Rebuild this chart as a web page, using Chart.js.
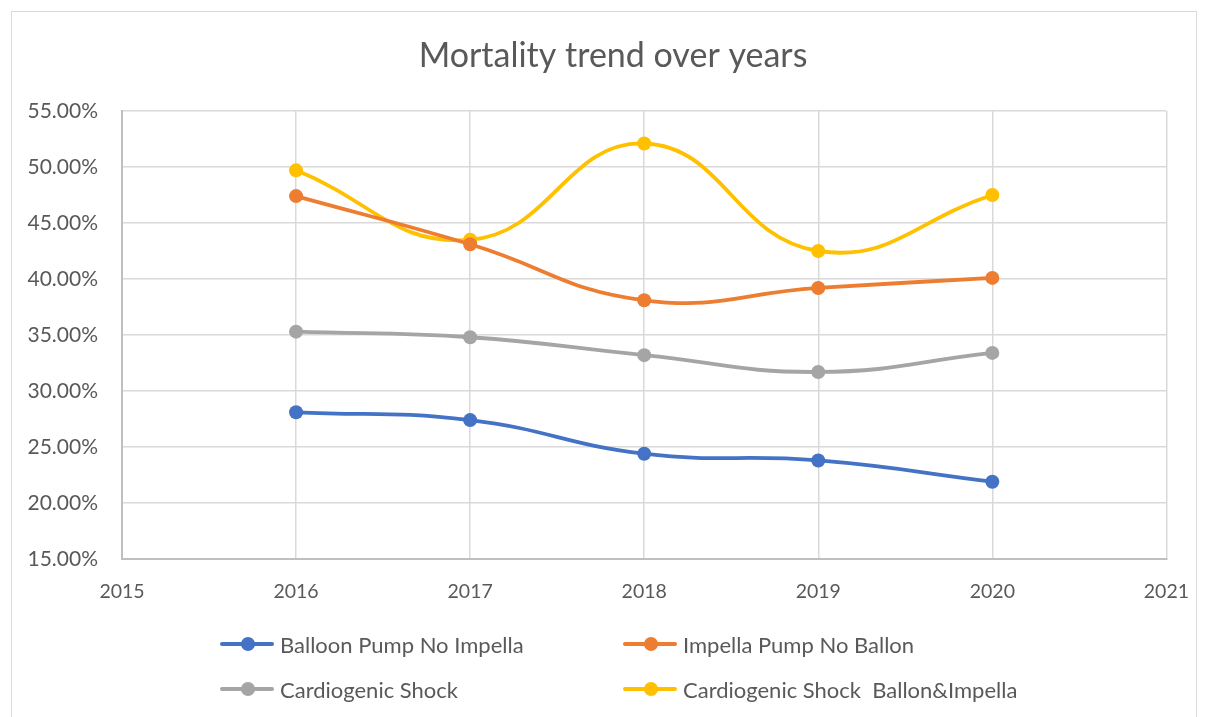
<!DOCTYPE html>
<html>
<head>
<meta charset="utf-8">
<script src="https://cdn.jsdelivr.net/npm/chart.js@4/dist/chart.umd.min.js"></script>
<style>
  html, body { margin: 0; padding: 0; background: #fff; }
  #wrap { position: relative; width: 1206px; height: 717px; overflow: hidden; }
  #frame { position: absolute; left: 11px; top: 11px; width: 1186px; height: 720px; border: 1.5px solid #d9d9d9; box-sizing: border-box; }
  canvas { position: absolute; left: 0; top: 0; }
  #legend { position: absolute; left: 0; top: 0; font-family: Lato, "Noto Sans", sans-serif; font-size: 22px; color: #595959; }
  .item { position: absolute; display: flex; align-items: center; height: 30px; white-space: pre; }
  .mark { position: relative; width: 54px; height: 30px; margin-right: 6px; }
  .mark .ln { position: absolute; left: 0; right: 0; top: 13px; height: 4px; border-radius: 2px; }
  .mark .dot { position: absolute; left: 21px; top: 8px; width: 14px; height: 14px; border-radius: 50%; }
</style>
</head>
<body>
<div id="wrap">
  <div id="frame"></div>
  <canvas id="chart" width="1210" height="717"></canvas>
  <div id="legend"></div>
</div>
<script>
// Данные графика
const years = [2016, 2017, 2018, 2019, 2020];
const balloonNoImpella = [28.1, 27.4, 24.4, 23.8, 21.9];
const impellaNoBallon = [47.4, 43.1, 38.1, 39.2, 40.1];
const cardiogenicShock = [35.3, 34.8, 33.2, 31.7, 33.4];
const shockBallonImpella = [49.7, 43.5, 52.1, 42.5, 47.5];

const seriesNames = [
  "Balloon Pump No Impella",
  "Impella Pump No Ballon",
  "Cardiogenic Shock",
  "Cardiogenic Shock  Ballon&Impella",
];
const seriesColors = ["#4472C4", "#ED7D31", "#A5A5A5", "#FFC000"];
const seriesValues = [balloonNoImpella, impellaNoBallon, cardiogenicShock, shockBallonImpella];
const chartTitle = "Mortality trend over years";

const FONT = "Lato, 'Noto Sans', sans-serif";
const TEXT = "#595959";

const datasets = seriesValues.map((vals, i) => ({
  label: seriesNames[i],
  data: years.map((yr, j) => ({ x: yr, y: vals[j] })),
  borderColor: seriesColors[i],
  backgroundColor: seriesColors[i],
  borderWidth: 3.8,
  pointRadius: 7,
  pointBorderWidth: 0,
  showLine: true,
  tension: 0.45,
}));

// Заголовок рисуем сами, чтобы сдвинуть его как в оригинале
const titlePlugin = {
  id: "excelTitle",
  afterDraw(chart) {
    const c = chart.ctx;
    c.save();
    c.fillStyle = TEXT;
    c.font = "34px " + FONT;
    c.textAlign = "center";
    c.textBaseline = "alphabetic";
    c.fillText(chartTitle, 613, 67);
    c.restore();
  },
};

const ctx = document.getElementById("chart").getContext("2d");
new Chart(ctx, {
  type: "scatter",
  data: { datasets: datasets },
  plugins: [titlePlugin],
  options: {
    responsive: false,
    animation: false,
    layout: { padding: { left: 0, right: 35, top: 111, bottom: 0 } },
    plugins: {
      legend: { display: false },
      tooltip: { enabled: false },
      title: { display: false },
    },
    scales: {
      x: {
        type: "linear",
        min: 2015,
        max: 2021,
        ticks: {
          stepSize: 1,
          color: TEXT,
          padding: 21,
          font: { family: FONT, size: 19.5 },
          callback: (v) => String(v),
        },
        grid: { color: "#d9d9d9", lineWidth: 1.5, drawTicks: false },
        border: { color: "#bfbfbf", width: 2 },
        afterFit: (s) => { s.height = 158; },
      },
      y: {
        min: 15,
        max: 55,
        ticks: {
          stepSize: 5,
          color: TEXT,
          padding: 24,
          font: { family: FONT, size: 21 },
          callback: (v) => v.toFixed(2) + "%",
        },
        grid: { color: "#d9d9d9", lineWidth: 1.5, drawTicks: false },
        border: { color: "#bfbfbf", width: 2 },
        afterFit: (s) => { s.width = 122; },
      },
    },
  },
});

// Легенда в две колонки
const legend = document.getElementById("legend");
const cols = [220, 623];
const rows = [644, 689];
seriesNames.forEach((name, i) => {
  const item = document.createElement("div");
  item.className = "item";
  item.style.left = cols[i % 2] + "px";
  item.style.top = (rows[Math.floor(i / 2)] - 15) + "px";
  item.innerHTML =
    '<span class="mark"><span class="ln" style="background:' + seriesColors[i] +
    '"></span><span class="dot" style="background:' + seriesColors[i] + '"></span></span>';
  const label = document.createElement("span");
  label.textContent = name;
  item.appendChild(label);
  legend.appendChild(item);
});
</script>
</body>
</html>
